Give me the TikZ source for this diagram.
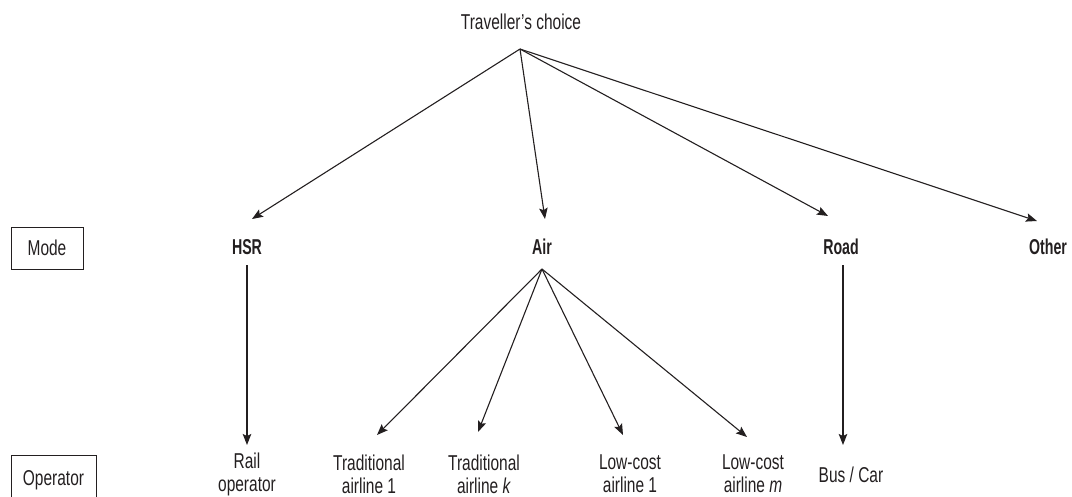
\documentclass[tikz,border=0pt]{standalone}
\usepackage{fontspec}
\setmainfont{Liberation Sans}[FakeStretch=0.72,BoldFeatures={FakeStretch=0.66},ItalicFeatures={FakeStretch=0.72}]
\usetikzlibrary{arrows.meta}
\definecolor{ink}{HTML}{231F20}
\begin{document}
\begin{tikzpicture}[x=1pt,y=-1pt,
  every node/.style={inner sep=0pt,text=ink,font=\fontsize{21.5}{23}\selectfont},
  lbl/.style={align=center},
  modelbl/.style={font=\fontsize{21.5}{23}\selectfont\bfseries},
  levelbox/.style={draw=ink,line width=0.9pt,minimum width=72pt,minimum height=42pt},
  arr/.style={draw=ink,line width=1.1pt,-{Stealth[length=11pt,width=8.5pt,inset=2pt]}}]
\useasboundingbox (0,0) rectangle (1072,496);
\clip (0,0) rectangle (1072,496);
% title
\node (tc) at (521,22) {Traveller’s choice};
\coordinate (top) at (520,49);
% level boxes
\node[levelbox] (mode) at (47,248) {Mode};
\node[levelbox,minimum width=85pt,minimum height=50pt] (oper) at (53.5,480) {Operator};
% modes
\node[modelbl] (hsr) at (247,247) {HSR};
\node[modelbl] (air) at (542,247) {Air};
\node[modelbl] (road) at (841,247) {Road};
\node[modelbl] (other) at (1048,247) {Other};
% operators
\node[lbl] (rail) at (247,474.5) {Rail\\operator};
\node[lbl] (ta1) at (369,474) {Traditional\\airline 1};
\node[lbl] (tak) at (484,474) {Traditional\\airline \textit{k}};
\node[lbl] (lc1) at (630,474) {Low-cost\\airline 1};
\node[lbl] (lcm) at (753,474) {Low-cost\\airline \textit{m}};
\node (bus) at (851,475) {Bus / Car};
% arrow end points
\coordinate (thsr) at (252,219);
\coordinate (tair) at (545,219);
\coordinate (troad) at (828,216);
\coordinate (tother) at (1037,221);
\coordinate (airtop) at (542,269);
\coordinate (tta1) at (377,435);
\coordinate (ttak) at (478,432);
\coordinate (tlc1) at (623,435);
\coordinate (tlcm) at (747,437);
\coordinate (hsrs) at (247,265);
\coordinate (hsre) at (247,445);
\coordinate (roads) at (843,265);
\coordinate (roade) at (843,445);
% connectors
\draw[arr] (top) -- (thsr);
\draw[arr] (top) -- (tair);
\draw[arr] (top) -- (troad);
\draw[arr] (top) -- (tother);
\draw[arr] (airtop) -- (tta1);
\draw[arr] (airtop) -- (ttak);
\draw[arr] (airtop) -- (tlc1);
\draw[arr] (airtop) -- (tlcm);
\draw[arr] (hsrs) -- (hsre);
\draw[arr] (roads) -- (roade);
\end{tikzpicture}
\end{document}
